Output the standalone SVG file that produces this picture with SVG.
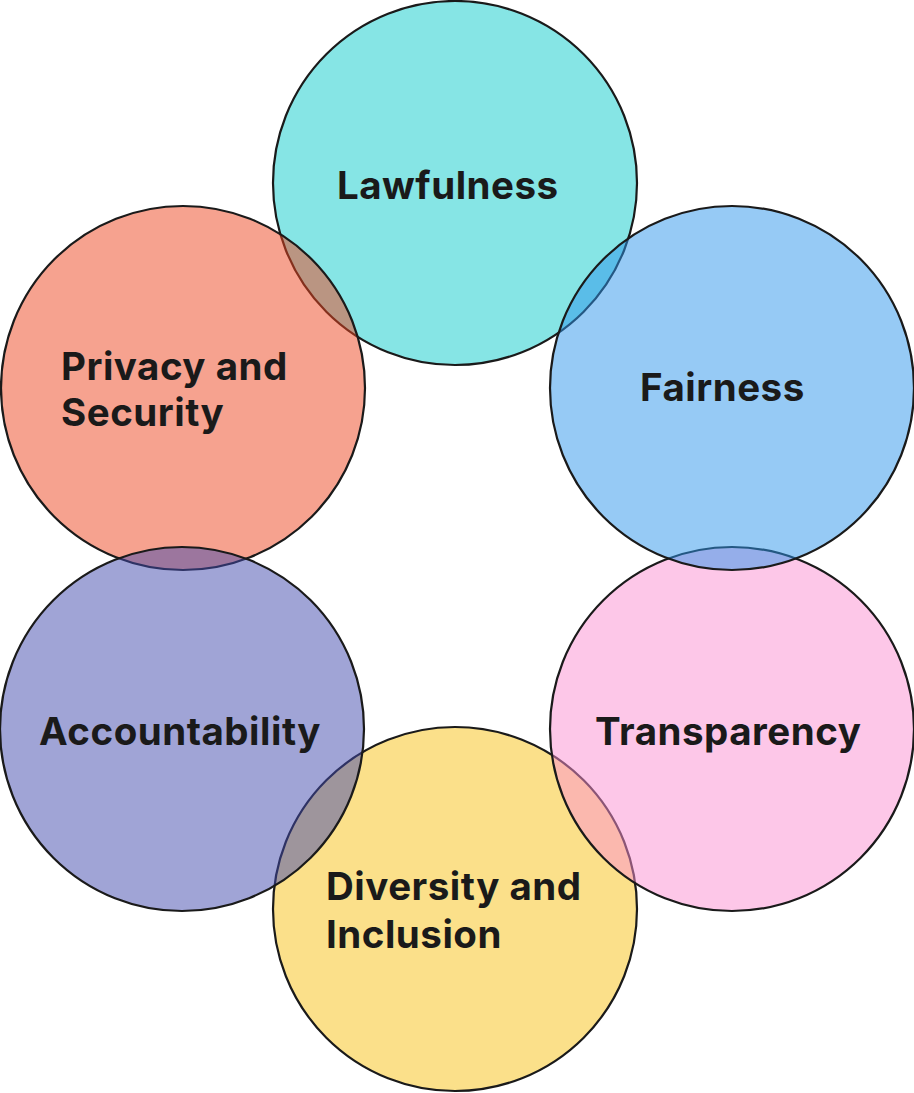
<svg xmlns="http://www.w3.org/2000/svg" width="914" height="1093" viewBox="0 0 914 1093">
<style>
.c{stroke:#1a1a1a;stroke-width:2.2;fill-opacity:0.5}
.t{font-family:Inter,"Liberation Sans",sans-serif;font-weight:700;font-size:38.5px;letter-spacing:0.5px;fill:#1a1a1a}
</style>
<rect width="914" height="1093" fill="#ffffff"/>
<g id="lawfulness"><circle class="c" cx="455" cy="183" r="182" fill="#0DCBCB"/></g>
<g id="diversity"><circle class="c" cx="455" cy="909" r="182" fill="#F7C115"/></g>
<g id="transparency"><circle class="c" cx="732" cy="729" r="182" fill="#FB8FD1"/></g>
<g id="fairness"><circle class="c" cx="732" cy="388" r="182" fill="#2D95EB"/></g>
<g id="privacy"><circle class="c" cx="183" cy="388" r="182" fill="#ED451F"/></g>
<g id="accountability"><circle class="c" cx="182" cy="729" r="182" fill="#4149AD"/></g>
<g id="labels">
<text class="t" x="337" y="199">Lawfulness</text>
<text class="t" x="640" y="401">Fairness</text>
<text class="t" x="61" y="380">Privacy and</text>
<text class="t" x="61" y="426">Security</text>
<text class="t" x="39" y="745">Accountability</text>
<text class="t" x="595" y="745">Transparency</text>
<text class="t" x="326" y="900">Diversity and</text>
<text class="t" x="326" y="948">Inclusion</text>
</g>
</svg>
